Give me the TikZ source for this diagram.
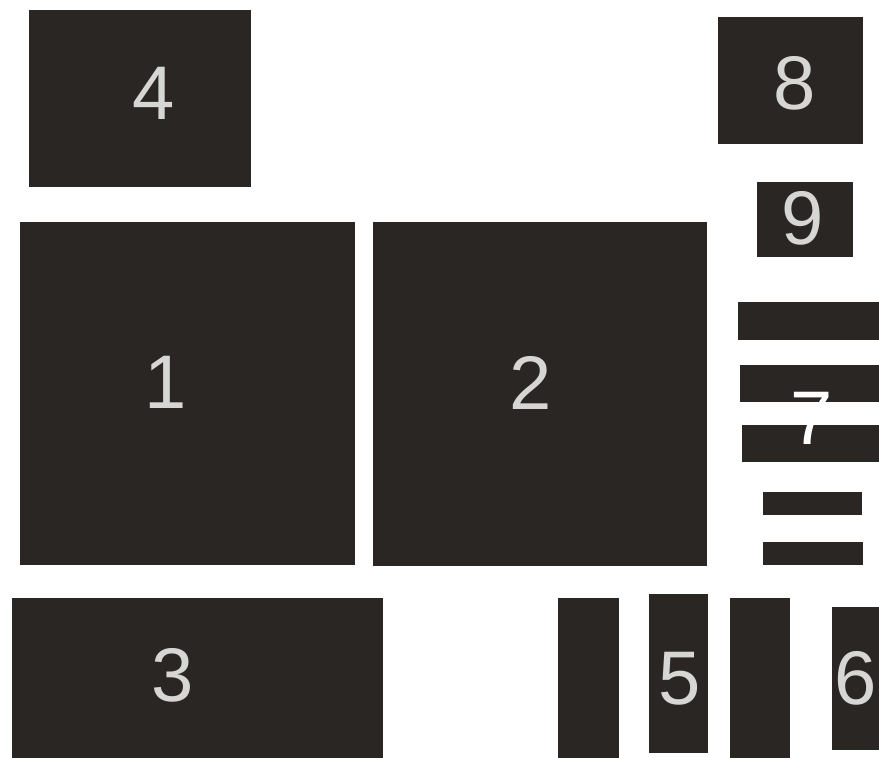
\documentclass[tikz,border=0pt]{standalone}
\usepackage{fontspec}
\setmainfont{Liberation Sans}
\definecolor{boardink}{HTML}{2A2623}
\definecolor{chalk}{HTML}{D6D6D4}

\begin{document}
\begin{tikzpicture}[
  x=1pt, y=-1pt,
  every node/.style={font=\fontsize{76}{76}\selectfont, chalk, inner sep=0pt},
  block/.style={fill=boardink}
]

\useasboundingbox[fill=white] (0,0) rectangle (879,758);

%% ==== 上排: 4, 8, 9 ================================================
\fill[block] (29,10) rectangle (251,187);
\node (lab4) at (154,93) {4};

\fill[block] (718,17) rectangle (863,144);
\node (lab8) at (795,83) {8};

\fill[block] (757,182) rectangle (853,257);
\node (lab9) at (803,218) {9};

%% ==== 中排: 1, 2 與條紋 7 =========================================
\fill[block] (20,222) rectangle (355,565);
\node (lab1) at (166,382) {1};

\fill[block] (373,222) rectangle (707,566);
\node (lab2) at (531,383) {2};

\foreach \xa/\ya/\xb/\yb in {738/302/879/340, 740/365/879/402,
                             742/425/879/462, 763/492/862/515,
                             763/542/863/565}
  \fill[block] (\xa,\ya) rectangle (\xb,\yb);
\node[white] (lab7) at (812,418) {7};

%% ==== 下排: 3, 5, 6 ================================================
\fill[block] (12,598) rectangle (383,758);
\node (lab3) at (173,675) {3};

\fill[block] (558,598) rectangle (619,758);
\fill[block] (649,594) rectangle (708,753);
\fill[block] (730,598) rectangle (790,758);
\node (lab5) at (680,679) {5};

\fill[block] (832,607) rectangle (879,750);
\node (lab6) at (856,678) {6};

\end{tikzpicture}
\end{document}
